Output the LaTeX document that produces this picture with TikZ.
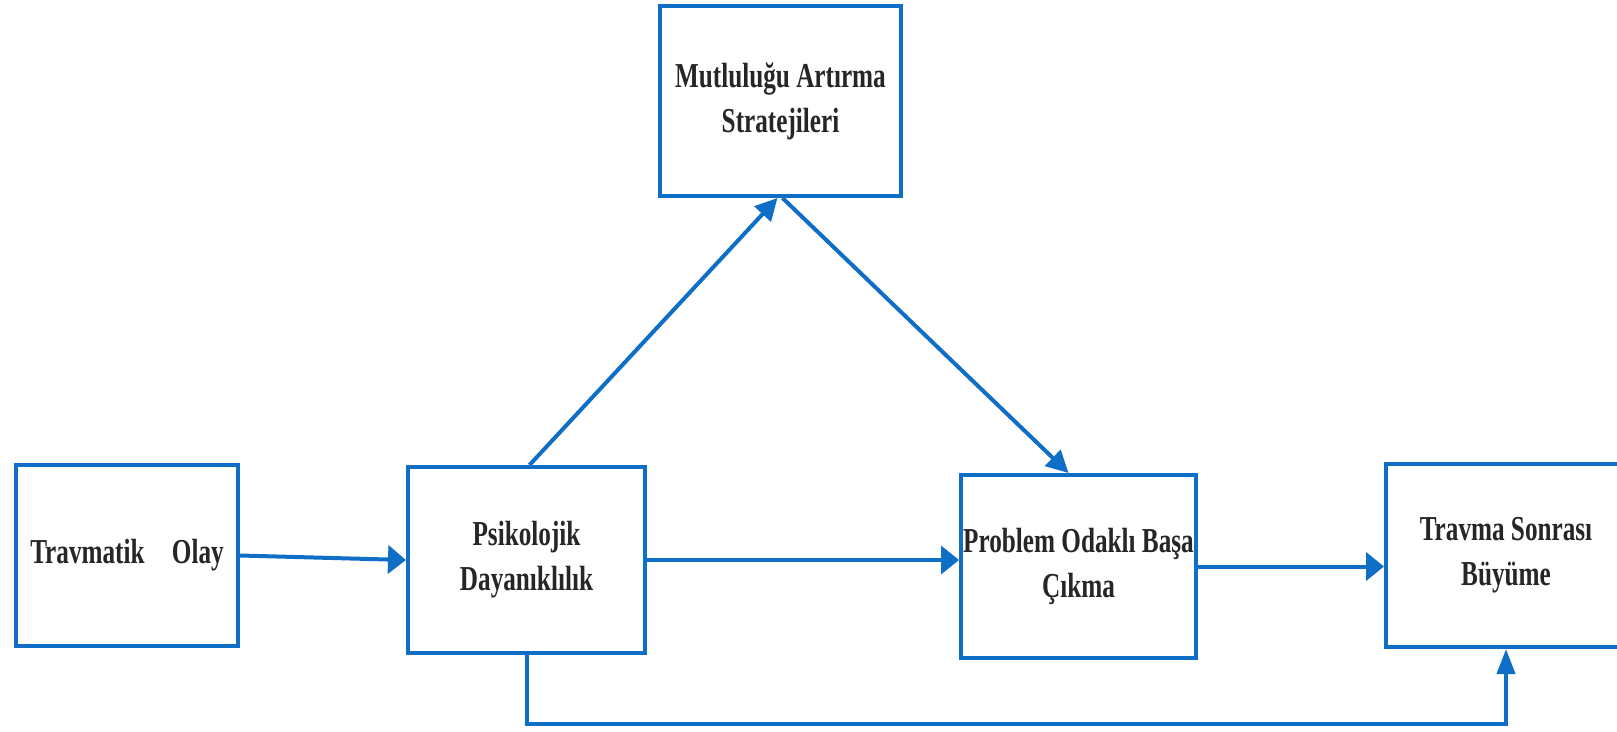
\documentclass[tikz,border=0pt]{standalone}
\usepackage{fontspec}
\newfontfamily\boxfont{Liberation Serif}[FakeStretch=0.72]
\usetikzlibrary{arrows.meta,calc}
\definecolor{boxblue}{HTML}{0F6FC6}
\begin{document}
\begin{tikzpicture}[x=1pt,y=-1pt,
  box/.style={draw=boxblue, line width=4pt, rectangle, inner sep=0pt, align=center,
    font=\boxfont\bfseries\fontsize{35}{45}\selectfont, text=black!85},
  conn/.style={draw=boxblue, line width=4pt},
  htip/.style={-{Triangle[length=18pt,width=28pt]}},
  vtip/.style={-{Triangle[length=25pt,width=18pt]}},
  dtip/.style={-{Triangle[length=22pt,width=22pt]}}]
\useasboundingbox (0,0) rectangle (1617,731);
\clip (0,0) rectangle (1617,731);
\fill[white] (0,0) rectangle (1617,731);
\node[box, minimum width=222pt, minimum height=181pt] (b1) at (127,555.5) {Travmatik\hspace{0.6em} Olay};
\node[box, minimum width=237pt, minimum height=186pt] (b2) at (526.5,560) {Psikolojik\\Dayanıklılık};
\node[box, minimum width=241pt, minimum height=190pt] (b3) at (780.5,101) {Mutluluğu Artırma\\Stratejileri};
\node[box, minimum width=235pt, minimum height=183pt] (b4) at (1078.5,566.5) {Problem Odaklı Başa\\Çıkma};
\node[box, minimum width=240pt, minimum height=183pt] (b5) at (1506,555.5) {Travma Sonrası\\Büyüme};
\draw[conn, htip] (b1.east) -- (b2.west);
\draw[conn, htip] (b2.east) -- (b2.east -| b4.west);
\draw[conn, htip] (b4.east) -- (b4.east -| b5.west);
\draw[conn, dtip] ($(b2.north)+(3,0)$) -- ($(b3.south)+(-3,0)$);
\draw[conn, dtip] ($(b3.south)+(2,0)$) -- ($(b4.north)+(-10,0)$);
\draw[conn, vtip, rounded corners=0pt] (b2.south) -- ++(0,69) -| (b5.south);
\end{tikzpicture}
\end{document}
